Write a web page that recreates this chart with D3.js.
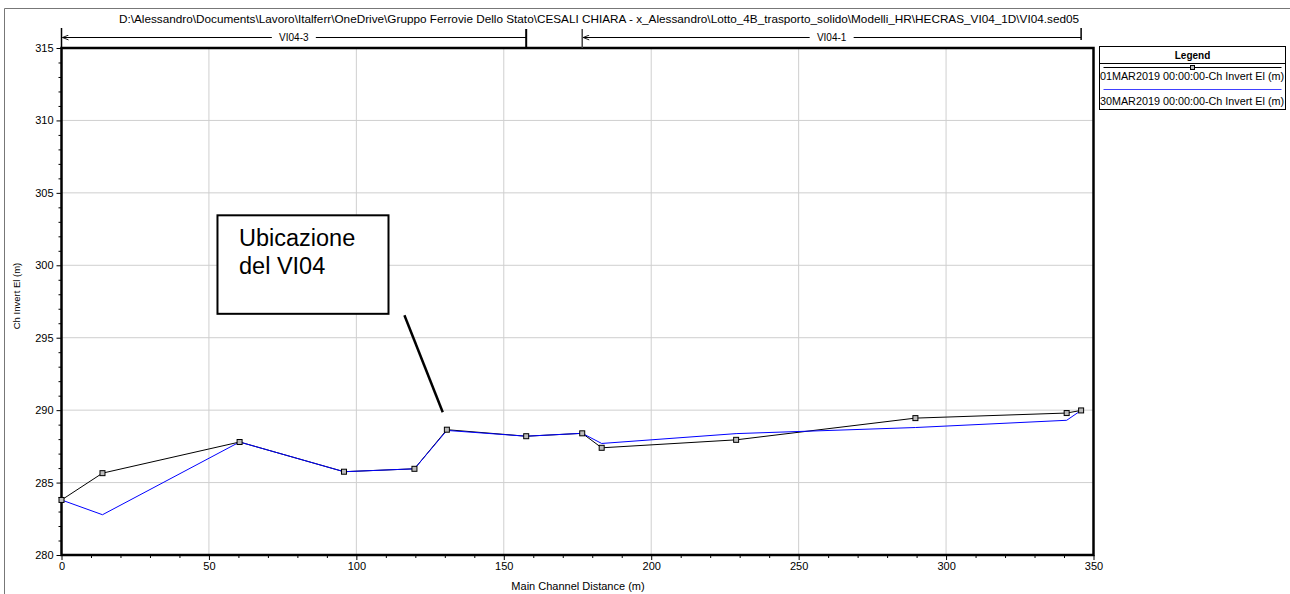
<!DOCTYPE html>
<html lang="en">
<head>
	<meta charset="UTF-8">
	<title>Ch Invert El profile</title>
	<script src="https://cdn.jsdelivr.net/npm/d3@7"></script>
	<style>
		body { margin: 0; background: #fff; }
		text { font-family: "Liberation Sans", Arial, sans-serif; fill: #000; }
	</style>
</head>
<body>
	<div id="container"></div>
	<script>
		var width = 1290, height = 594;

		// data
		var stations = [0, 13.9, 60.4, 95.8, 119.7, 130.7, 157.6, 176.6, 183.2, 228.8, 289.6, 340.9, 345.8];
		var bedMar01 = [283.8, 285.65, 287.8, 285.75, 285.95, 288.65, 288.2, 288.4, 287.4, 287.95, 289.45, 289.8, 289.98];
		var bedMar30 = [283.8, 282.78, 287.8, 285.75, 285.95, 288.6, 288.2, 288.4, 287.7, 288.38, 288.8, 289.3, 289.98];
		var seriesNames = ["01MAR2019 00:00:00-Ch Invert El (m)", "30MAR2019 00:00:00-Ch Invert El (m)"];
		var xTicks = [0, 50, 100, 150, 200, 250, 300, 350];
		var yTicks = [280, 285, 290, 295, 300, 305, 310, 315];
		var reaches = [
			{name: "VI04-3", from: 0, to: 157.6},
			{name: "VI04-1", from: 176.6, to: 345.8}
		];
		var titleText = "D:\\Alessandro\\Documents\\Lavoro\\Italferr\\OneDrive\\Gruppo Ferrovie Dello Stato\\CESALI CHIARA - x_Alessandro\\Lotto_4B_trasporto_solido\\Modelli_HR\\HECRAS_VI04_1D\\VI04.sed05";
		var noteLines = ["Ubicazione", "del VI04"];

		var svg = d3.select("#container").append("svg")
				.attr("width", width)
				.attr("height", height);

		svg.append("rect").attr("width", width).attr("height", height).attr("fill", "#fff");

		// outer frame (only top and left show)
		svg.append("path")
				.attr("d", "M4.5," + height + "V8.5H" + width)
				.attr("fill", "none")
				.attr("stroke", "#777");

		var x = d3.scaleLinear().domain([0, 350]).range([61.5, 1093.5]);
		var y = d3.scaleLinear().domain([280, 315]).range([555, 48]);

		// grid
		svg.selectAll(".xgrid").data(xTicks.slice(1, -1))
			.enter().append("line")
				.attr("x1", d => x(d)).attr("x2", d => x(d))
				.attr("y1", y(280)).attr("y2", y(315))
				.attr("stroke", "#cfcfcf");
		svg.selectAll(".ygrid").data(yTicks.slice(1, -1))
			.enter().append("line")
				.attr("x1", x(0)).attr("x2", x(350))
				.attr("y1", d => y(d)).attr("y2", d => y(d))
				.attr("stroke", "#cfcfcf");

		// axes
		var xMinor = d3.range(0, 351, 10).filter(v => v % 50 != 0);
		var yMinor = d3.range(280, 316, 1).filter(v => v % 5 != 0);

		var gx = svg.append("g").attr("transform", "translate(0," + y(280) + ")");
		gx.call(d3.axisBottom(x).tickValues(xTicks).tickSize(5).tickPadding(2));
		gx.append("g").call(d3.axisBottom(x).tickValues(xMinor).tickSize(3).tickFormat(""));

		var gy = svg.append("g").attr("transform", "translate(" + x(0) + ",0)");
		gy.call(d3.axisLeft(y).tickValues(yTicks).tickSize(5).tickPadding(3));
		gy.append("g").call(d3.axisLeft(y).tickValues(yMinor).tickSize(3).tickFormat(""));

		svg.selectAll(".domain").remove();
		svg.selectAll(".tick text").attr("font-size", 11).attr("font-family", "Liberation Sans, Arial, sans-serif").attr("fill", "#000");
		svg.selectAll(".tick line").attr("stroke", "#000");

		// plot frame
		svg.append("rect")
				.attr("x", x(0)).attr("y", y(315))
				.attr("width", x(350) - x(0)).attr("height", y(280) - y(315))
				.attr("fill", "none")
				.attr("stroke", "#000")
				.attr("stroke-width", 2.5);

		// series
		var line = d3.line().x(d => x(d[0])).y(d => y(d[1]));
		var ptsA = stations.map((s, i) => [s, bedMar01[i]]);
		var ptsB = stations.map((s, i) => [s, bedMar30[i]]);

		svg.append("path").datum(ptsA)
				.attr("d", line)
				.attr("fill", "none")
				.attr("stroke", "#000")
				.attr("stroke-width", 1);
		svg.append("path").datum(ptsB)
				.attr("d", line)
				.attr("fill", "none")
				.attr("stroke", "#0000ff")
				.attr("stroke-width", 1);
		svg.selectAll(".marker").data(ptsA)
			.enter().append("rect")
				.attr("x", d => x(d[0]) - 2.5)
				.attr("y", d => y(d[1]) - 2.5)
				.attr("width", 5).attr("height", 5)
				.attr("fill", "#bbb")
				.attr("stroke", "#000")
				.attr("stroke-width", 1);

		// axis titles
		svg.append("text")
				.attr("x", 578).attr("y", 590)
				.attr("text-anchor", "middle")
				.attr("font-size", 11)
				.text("Main Channel Distance (m)");
		svg.append("text")
				.attr("transform", "translate(20,296) rotate(-90)")
				.attr("text-anchor", "middle")
				.attr("font-size", 9.5)
				.text("Ch Invert El (m)");

		// title
		svg.append("text")
				.attr("x", 599).attr("y", 23)
				.attr("text-anchor", "middle")
				.attr("font-size", 11.75)
				.text(titleText);

		// reach bars
		var ry = 37.5;
		svg.append("defs").append("marker")
				.attr("id", "arr")
				.attr("viewBox", "0 0 10 10")
				.attr("refX", 0).attr("refY", 5)
				.attr("markerWidth", 8).attr("markerHeight", 6)
				.attr("orient", "auto")
			.append("path")
				.attr("d", "M10,1L0,5L10,9")
				.attr("fill", "none")
				.attr("stroke", "#000")
				.attr("stroke-width", 1.5);

		reaches.forEach(function (r) {
			var x0 = x(r.from), x1 = x(r.to), xm = (x0 + x1) / 2;
			svg.append("line")
					.attr("x1", x0 + 1).attr("x2", xm - 22)
					.attr("y1", ry).attr("y2", ry)
					.attr("stroke", "#000")
					.attr("marker-start", "url(#arr)");
			svg.append("line")
					.attr("x1", xm + 22).attr("x2", x1)
					.attr("y1", ry).attr("y2", ry)
					.attr("stroke", "#000");
			svg.append("text")
					.attr("x", xm).attr("y", ry + 3.5)
					.attr("text-anchor", "middle")
					.attr("font-size", 10)
					.text(r.name);
		});
		// reach end ticks
		svg.append("line").attr("x1", x(0)).attr("x2", x(0)).attr("y1", 28).attr("y2", 48)
				.attr("stroke", "#000").attr("stroke-width", 1.5);
		svg.append("line").attr("x1", x(reaches[0].to)).attr("x2", x(reaches[0].to)).attr("y1", 29).attr("y2", 48)
				.attr("stroke", "#000").attr("stroke-width", 2);
		svg.append("line").attr("x1", x(reaches[1].from)).attr("x2", x(reaches[1].from)).attr("y1", 29).attr("y2", 48)
				.attr("stroke", "#444").attr("stroke-width", 1.5);
		svg.append("line").attr("x1", x(reaches[1].to)).attr("x2", x(reaches[1].to)).attr("y1", 28).attr("y2", 40)
				.attr("stroke", "#000").attr("stroke-width", 1.5);

		// annotation box
		svg.append("rect")
				.attr("x", x(52.9)).attr("y", y(303.45))
				.attr("width", x(110.9) - x(52.9)).attr("height", y(296.65) - y(303.45))
				.attr("fill", "#fff")
				.attr("stroke", "#000")
				.attr("stroke-width", 2);
		svg.selectAll(".note").data(noteLines)
			.enter().append("text")
				.attr("x", x(60.2))
				.attr("y", (d, i) => y(301.35) + i * 28)
				.attr("font-size", 23.5)
				.text(d => d);
		svg.append("line")
				.attr("x1", x(116.3)).attr("y1", y(296.55))
				.attr("x2", x(129.3)).attr("y2", y(289.85))
				.attr("stroke", "#000")
				.attr("stroke-width", 2.5);

		// legend
		var lg = svg.append("g").attr("transform", "translate(1099.5,46.5)");
		lg.append("clipPath").attr("id", "lgclip")
			.append("rect").attr("x", 0).attr("y", 0).attr("width", 186).attr("height", 63);
		lg.append("rect").attr("width", 186).attr("height", 63)
				.attr("fill", "#fff").attr("stroke", "#000");
		lg.append("line").attr("x1", 0).attr("x2", 186).attr("y1", 17).attr("y2", 17).attr("stroke", "#000");
		lg.append("text").attr("x", 93).attr("y", 12)
				.attr("text-anchor", "middle")
				.attr("font-size", 10).attr("font-weight", "bold")
				.text("Legend");
		lg.append("line").attr("x1", 4).attr("x2", 182).attr("y1", 21).attr("y2", 21).attr("stroke", "#000");
		lg.append("rect").attr("x", 91).attr("y", 19).attr("width", 4).attr("height", 4)
				.attr("fill", "#bbb").attr("stroke", "#000");
		lg.append("line").attr("x1", 4).attr("x2", 182).attr("y1", 43).attr("y2", 43).attr("stroke", "#4040ff");
		lg.append("g").attr("clip-path", "url(#lgclip)")
			.selectAll(".lt").data(seriesNames)
			.enter().append("text")
				.attr("x", 92.5)
				.attr("y", (d, i) => 33 + i * 25)
				.attr("text-anchor", "middle")
				.attr("font-size", 10.8)
				.text(d => d);
	</script>
</body>
</html>
